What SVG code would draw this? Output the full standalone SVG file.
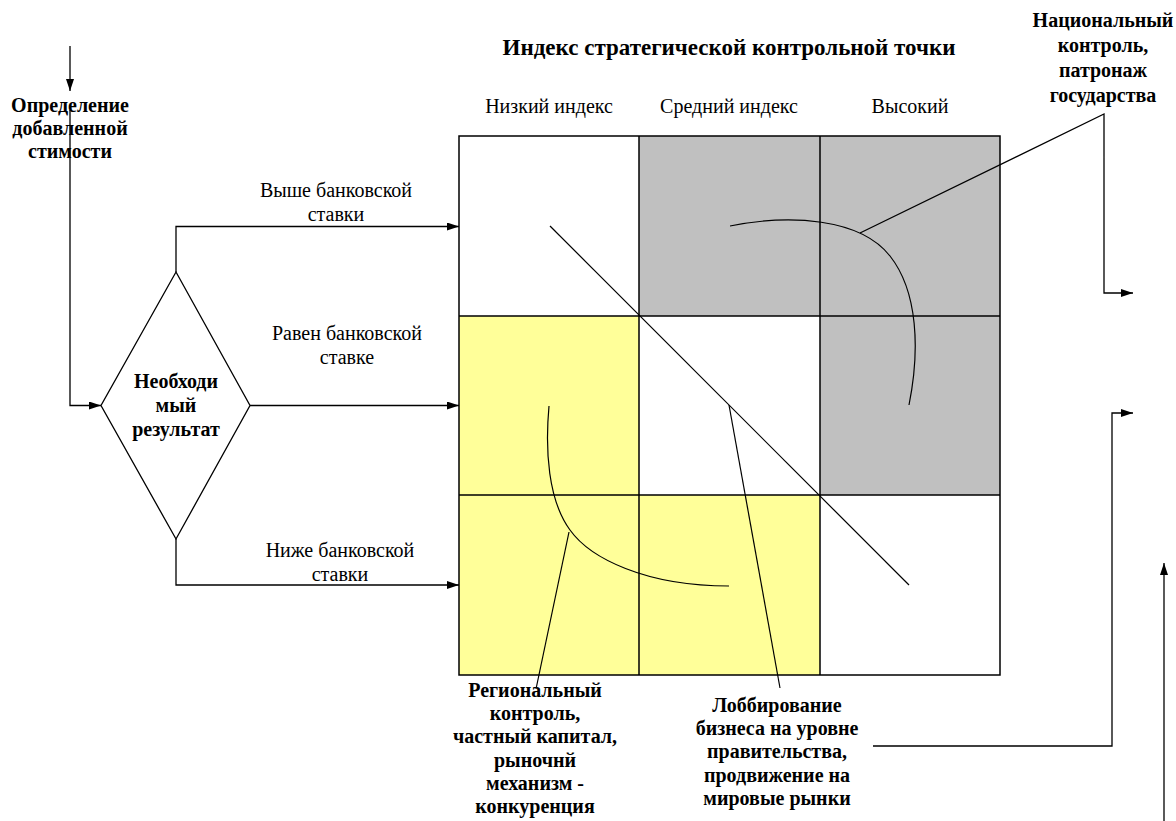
<svg xmlns="http://www.w3.org/2000/svg" width="1176" height="821" viewBox="0 0 1176 821">
<defs>
<style>
.t{font-family:"Liberation Serif","Times New Roman",serif;font-size:20px;fill:#000;text-anchor:middle}
.b{font-weight:bold}
.big{font-size:23px}
.ln{fill:none;stroke:#000;stroke-width:1.3}
.thin{fill:none;stroke:#000;stroke-width:1.2}
.grid{fill:none;stroke:#000;stroke-width:1.5}
.gray{fill:#C0C0C0}
.yel{fill:#FFFF99}
.wh{fill:#FFFFFF}
</style>
<marker id="ah" markerWidth="12" markerHeight="8" refX="12" refY="4" orient="auto" markerUnits="userSpaceOnUse"><path d="M0,0 L12,4 L0,8 z" fill="#000"/></marker>
</defs>
<rect width="1176" height="821" fill="#fff"/>

<g id="grid">
<rect class="wh" x="459" y="136" width="180" height="180"/>
<rect class="gray" x="639" y="136" width="181" height="180"/>
<rect class="gray" x="820" y="136" width="180" height="180"/>
<rect class="yel" x="459" y="316" width="180" height="179"/>
<rect class="wh" x="639" y="316" width="181" height="179"/>
<rect class="gray" x="820" y="316" width="180" height="179"/>
<rect class="yel" x="459" y="495" width="180" height="180"/>
<rect class="yel" x="639" y="495" width="181" height="180"/>
<rect class="wh" x="820" y="495" width="180" height="180"/>
<path class="grid" d="M459,136 H1000 V675 H459 Z M639,136 V675 M820,136 V675 M459,316 H1000 M459,495 H1000"/>
</g>

<g id="title"><text class="t b big" x="729" y="55">Индекс стратегической контрольной точки</text></g>
<g id="headers">
<text class="t" x="549" y="113">Низкий индекс</text>
<text class="t" x="729" y="113">Средний индекс</text>
<text class="t" x="910" y="113">Высокий</text>
</g>

<g id="start-label"><text class="t b" x="70" y="112">Определение</text><text class="t b" x="70" y="135">добавленной</text><text class="t b" x="70" y="158">стимости</text></g>

<g id="decision">
<path d="M176,272 L250,405.5 L176,539 L101,405.5 Z" fill="#fff" stroke="#000" stroke-width="1.3"/>
<text class="t b" x="176" y="388">Необходи</text>
<text class="t b" x="176" y="412">мый</text>
<text class="t b" x="176" y="436">результат</text>
</g>

<g id="label-above"><text class="t" x="336" y="197">Выше банковской</text><text class="t" x="336" y="221">ставки</text></g>
<g id="label-equal"><text class="t" x="347" y="340">Равен банковской</text><text class="t" x="347" y="364">ставке</text></g>
<g id="label-below"><text class="t" x="340" y="557">Ниже банковской</text><text class="t" x="340" y="581">ставки</text></g>

<g id="national"><text class="t b" x="1103" y="27">Национальный</text><text class="t b" x="1103" y="52">контроль,</text><text class="t b" x="1103" y="77">патронаж</text><text class="t b" x="1103" y="102">государства</text></g>

<g id="regional"><text class="t b" x="535" y="697">Региональный</text><text class="t b" x="535" y="720">контроль,</text><text class="t b" x="535" y="743">частный капитал,</text><text class="t b" x="535" y="767">рыночнй</text><text class="t b" x="535" y="790">механизм -</text><text class="t b" x="535" y="813">конкуренция</text></g>

<g id="lobbying"><text class="t b" x="777" y="712">Лоббирование</text><text class="t b" x="777" y="735">бизнеса на уровне</text><text class="t b" x="777" y="758">правительства,</text><text class="t b" x="777" y="782">продвижение на</text><text class="t b" x="777" y="805">мировые рынки</text></g>

<g id="connectors">
<path class="ln" d="M70,46 V91" marker-end="url(#ah)"/>
<path class="ln" d="M70,110 V405.5 H101" marker-end="url(#ah)"/>
<path class="ln" d="M176,272 V226.5 H459" marker-end="url(#ah)"/>
<path class="ln" d="M250,405.5 H459" marker-end="url(#ah)"/>
<path class="ln" d="M176,539 V585 H459" marker-end="url(#ah)"/>
<path class="thin" d="M550,226 L909,585"/>
<path class="thin" d="M730,226 C790,214 860,218 890,256 C918,291.5 920,350 909,405"/>
<path class="thin" d="M549,406 C545,450 548,500 570,530 C590,558 645,586 729,586"/>
<path class="ln" d="M860,233 L1104,114 V293 H1133" marker-end="url(#ah)"/>
<path class="thin" d="M569,532 L536,689"/>
<path class="thin" d="M729,405 L780,688"/>
<path class="ln" d="M873,746 H1112 V413 H1133" marker-end="url(#ah)"/>
<path class="ln" d="M1164,821 V563" marker-end="url(#ah)"/>
</g>
</svg>
